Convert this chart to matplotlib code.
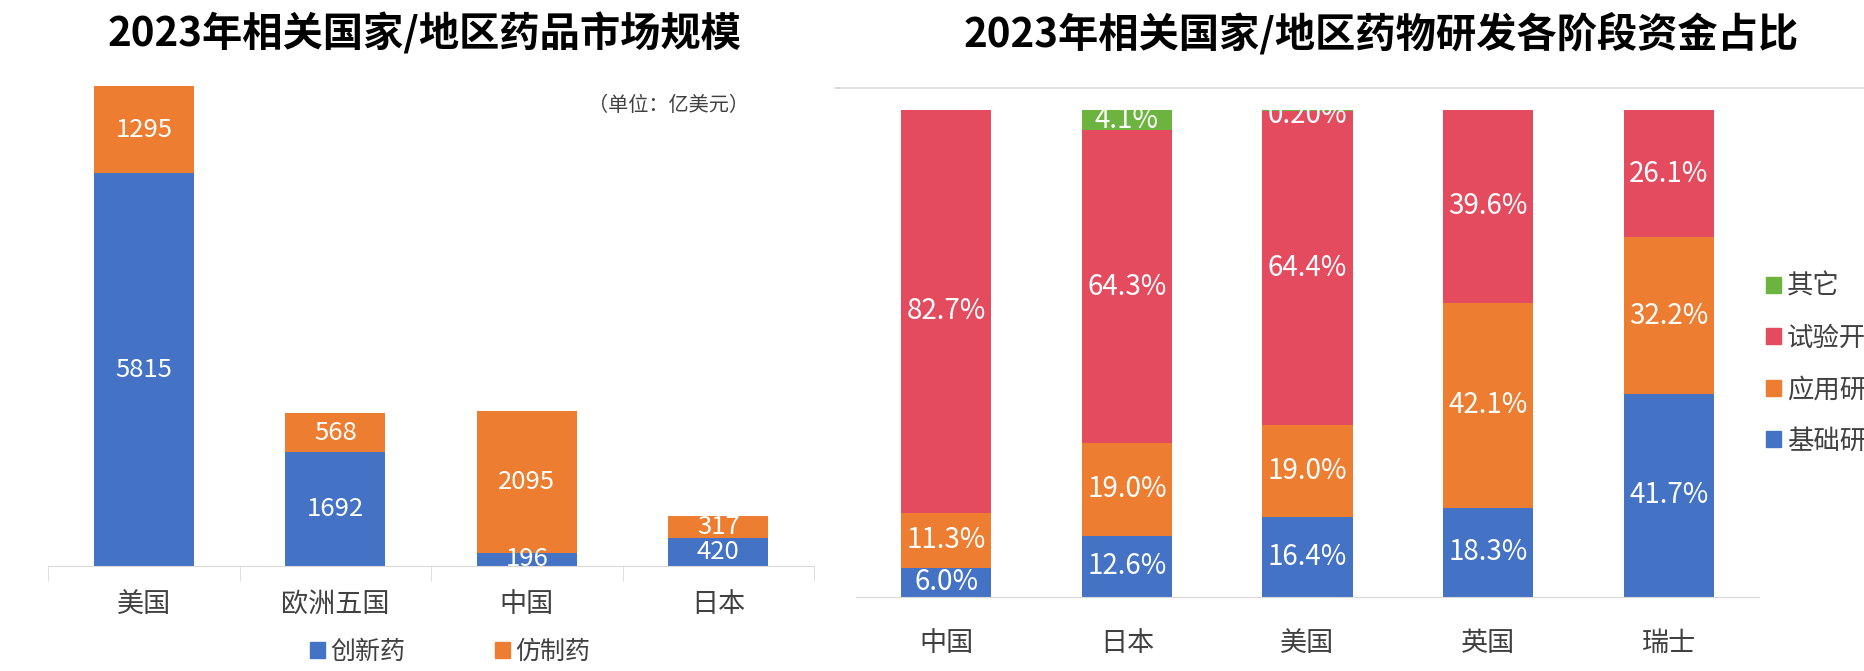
import numpy as np
import matplotlib
matplotlib.use('Agg')
import matplotlib.pyplot as plt
from matplotlib.patches import Patch
from matplotlib.lines import Line2D

plt.rcParams['font.family'] = ['Noto Sans CJK SC', 'DejaVu Sans']

# left chart: market size (100 million USD)
markets = ['美国', '欧洲五国', '中国', '日本']
innovative = [5815, 1692, 196, 420]
generic = [1295, 568, 2095, 317]

# right chart: R&D funding share by stage (%)
regions = ['中国', '日本', '美国', '英国', '瑞士']
basic = [6.0, 12.6, 16.4, 18.3, 41.7]
applied = [11.3, 19.0, 19.0, 42.1, 32.2]
experimental = [82.7, 64.3, 64.4, 39.6, 26.1]
other = [0.0, 4.1, 0.2, 0.0, 0.0]
other_labels = ['', '4.1%', '0.20%', '', '']

BLUE = '#4472C4'
ORANGE = '#ED7D31'
RED = '#E54B5E'
GREEN = '#6DB33F'
GRID = '#D9D9D9'
TXT = '#404040'

W, H = 1864, 671
fig = plt.figure(figsize=(W / 100, H / 100), dpi=100)

# ---------------- left chart ----------------
ax1 = fig.add_axes([48 / W, 1 - 566 / H, 766 / W, 486 / H])
x = np.arange(len(markets))
bw = 0.52
ax1.bar(x, innovative, bw, color=BLUE)
ax1.bar(x, generic, bw, bottom=innovative, color=ORANGE)
for i in range(len(markets)):
    ax1.text(x[i], innovative[i] / 2, str(innovative[i]), ha='center', va='center',
             color='white', fontsize=18.5, clip_on=True)
    ax1.text(x[i], innovative[i] + generic[i] / 2, str(generic[i]), ha='center',
             va='center', color='white', fontsize=18.5, clip_on=True)
ax1.set_xlim(-0.5, len(markets) - 0.5)
ax1.set_ylim(0, 7200)
for s in ['top', 'right', 'left']:
    ax1.spines[s].set_visible(False)
ax1.spines['bottom'].set_color(GRID)
ax1.set_yticks([])
ax1.set_xticks(x)
ax1.set_xticklabels(markets, fontsize=19.5, color=TXT)
ax1.set_xticks(np.arange(-0.5, len(markets)), minor=True)
ax1.tick_params(axis='x', which='major', length=0, pad=18)
ax1.tick_params(axis='x', which='minor', length=11, color=GRID)
ax1.text(0.81, 0.948, '（单位：亿美元）', transform=ax1.transAxes, ha='center', va='center',
         fontsize=14.5, color=TXT)
fig.text(425 / W, 1 - 34 / H, '2023年相关国家/地区药品市场规模', ha='center', va='center',
         fontsize=29, fontweight='bold')
fig.legend(handles=[Patch(color=BLUE, label='创新药'), Patch(color=ORANGE, label='仿制药')],
           loc='center', bbox_to_anchor=(450 / W, 1 - 652 / H), ncol=2, frameon=False,
           fontsize=18, handlelength=0.6, handleheight=0.6, handletextpad=0.2,
           columnspacing=3.6, labelcolor=TXT)

# ---------------- right chart ----------------
ax2 = fig.add_axes([856 / W, 1 - 597 / H, 903 / W, 487 / H])
xr = np.arange(len(regions))
bw2 = 0.5
b = np.array(basic) / 100
a = np.array(applied) / 100
e = np.array(experimental) / 100
o = np.array(other) / 100
ax2.bar(xr, b, bw2, color=BLUE)
ax2.bar(xr, a, bw2, bottom=b, color=ORANGE)
ax2.bar(xr, e, bw2, bottom=b + a, color=RED)
ax2.bar(xr, o, bw2, bottom=b + a + e, color=GREEN)
for i in range(len(regions)):
    ax2.text(xr[i], b[i] / 2, f'{basic[i]:.1f}%', ha='center', va='center',
             color='white', fontsize=20, clip_on=True)
    ax2.text(xr[i], b[i] + a[i] / 2, f'{applied[i]:.1f}%', ha='center', va='center',
             color='white', fontsize=20, clip_on=True)
    ax2.text(xr[i], b[i] + a[i] + e[i] / 2, f'{experimental[i]:.1f}%', ha='center',
             va='center', color='white', fontsize=20, clip_on=True)
    if other_labels[i]:
        yy = min(b[i] + a[i] + e[i] + o[i] / 2, 0.99)
        ax2.text(xr[i], yy, other_labels[i], ha='center', va='center',
                 color='white', fontsize=20, clip_on=True)
ax2.set_xlim(-0.5, len(regions) - 0.5)
ax2.set_ylim(0, 1)
for s in ['top', 'right', 'left']:
    ax2.spines[s].set_visible(False)
ax2.spines['bottom'].set_color(GRID)
ax2.set_yticks([])
ax2.set_xticks(xr)
ax2.set_xticklabels(regions, fontsize=19.5, color=TXT)
ax2.tick_params(axis='x', length=0, pad=24)
fig.add_artist(Line2D([835 / W, 1], [1 - 88 / H, 1 - 88 / H], transform=fig.transFigure,
                      color=GRID, lw=1.2))
fig.text(1381 / W, 1 - 34 / H, '2023年相关国家/地区药物研发各阶段资金占比', ha='center',
         va='center', fontsize=29, fontweight='bold')
fig.legend(handles=[Patch(color=GREEN, label='其它'), Patch(color=RED, label='试验开发'),
                    Patch(color=ORANGE, label='应用研究'), Patch(color=BLUE, label='基础研究')],
           loc='upper left', bbox_to_anchor=(1766 / W, 1 - 273 / H), frameon=False,
           fontsize=19, handlelength=0.55, handleheight=0.55, handletextpad=0.25,
           labelspacing=0.93, borderpad=0, borderaxespad=0, labelcolor=TXT)

fig.savefig('out.png', dpi=100)
